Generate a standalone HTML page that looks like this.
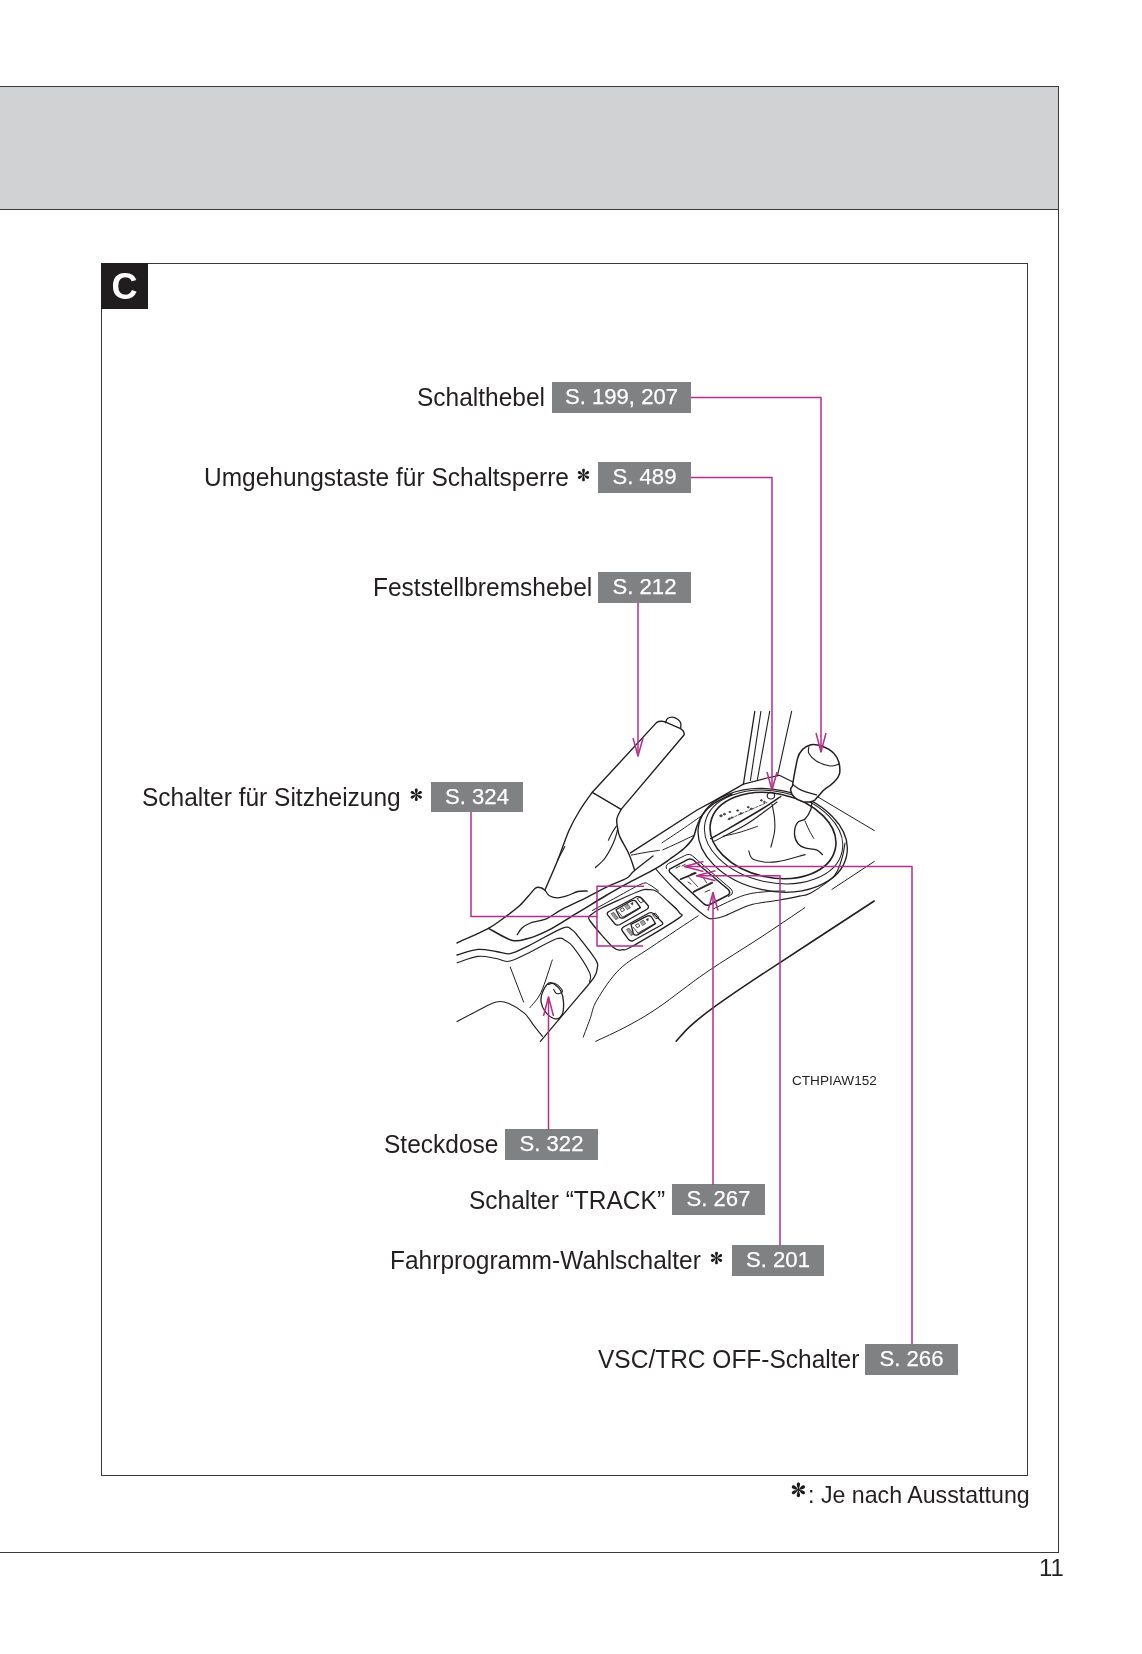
<!DOCTYPE html>
<html><head><meta charset="utf-8">
<style>
html,body{margin:0;padding:0;background:#fff;}
body{width:1142px;height:1654px;position:relative;overflow:hidden;font-family:"Liberation Sans",sans-serif;color:#231f20;}
.abs{position:absolute;will-change:transform;}
.hdr{left:0;top:86px;width:1058px;height:122px;background:#d1d2d4;border-top:1px solid #3a3a3a;border-bottom:1px solid #3a3a3a;}
.vline{left:1058px;top:86px;width:1px;height:1467px;background:#3a3a3a;}
.bline{left:0;top:1552px;width:1059px;height:1px;background:#3a3a3a;}
.frame{left:101px;top:263px;width:925px;height:1211px;border:1px solid #3a3a3a;}
.cbox{left:101px;top:263px;width:47px;height:46px;background:#1f1d1d;color:#fff;font-weight:bold;font-size:36px;line-height:48px;text-align:center;overflow:hidden;}
.lbl{font-size:24.5px;line-height:30px;white-space:nowrap;transform:scaleY(1.04);transform-origin:0 23.5px;}
.box{background:#808183;color:#fff;font-size:22.1px;line-height:30px;height:31px;text-align:center;white-space:nowrap;-webkit-text-stroke:0.25px #fff;}
.pg{font-size:24px;line-height:30px;}
.foot{font-size:23.2px;line-height:30px;white-space:nowrap;}
svg{position:absolute;left:0;top:0;}
</style></head><body>
<div class="abs hdr"></div>
<div class="abs vline"></div>
<div class="abs bline"></div>
<div class="abs frame"></div>
<div class="abs cbox">C</div>

<div class="abs lbl" style="left:417px;top:382.5px;">Schalthebel</div>
<div class="abs box" style="left:552px;top:382px;width:139px;">S. 199, 207</div>

<div class="abs lbl" style="left:204px;top:462.5px;">Umgehungstaste für Schaltsperre</div>
<div class="abs box" style="left:598px;top:462px;width:93px;">S. 489</div>

<div class="abs lbl" style="left:373px;top:572.5px;">Feststellbremshebel</div>
<div class="abs box" style="left:598px;top:572px;width:93px;">S. 212</div>

<div class="abs lbl" style="left:142px;top:782.5px;">Schalter für Sitzheizung</div>
<div class="abs box" style="left:431px;top:782px;width:92px;height:30px;line-height:30px;">S. 324</div>

<div class="abs lbl" style="left:384px;top:1129.5px;">Steckdose</div>
<div class="abs box" style="left:505px;top:1129px;width:93px;">S. 322</div>

<div class="abs lbl" style="left:469px;top:1185.5px;">Schalter “TRACK”</div>
<div class="abs box" style="left:672px;top:1184px;width:93px;">S. 267</div>

<div class="abs lbl" style="left:390px;top:1245.5px;">Fahrprogramm-Wahlschalter</div>
<div class="abs box" style="left:732px;top:1245px;width:92px;">S. 201</div>

<div class="abs lbl" style="left:598px;top:1344.5px;">VSC/TRC OFF-Schalter</div>
<div class="abs box" style="left:865px;top:1344px;width:93px;">S. 266</div>

<div class="abs foot" style="left:808px;top:1480px;">: Je nach Ausstattung</div>
<div class="abs pg" style="left:1039px;top:1553px;">11</div>

<svg width="1142" height="1654" viewBox="0 0 1142 1654">
<defs>
<g id="ast"><g fill="#1a1a1a">
<path d="M0,0 C-0.6,-1.4 -1.7,-4 -1.65,-5.7 C-1.6,-7.9 1.6,-7.9 1.65,-5.7 C1.7,-4 0.6,-1.4 0,0Z"/>
<path d="M0,0 C-0.6,-1.4 -1.7,-4 -1.65,-5.7 C-1.6,-7.9 1.6,-7.9 1.65,-5.7 C1.7,-4 0.6,-1.4 0,0Z" transform="rotate(60)"/>
<path d="M0,0 C-0.6,-1.4 -1.7,-4 -1.65,-5.7 C-1.6,-7.9 1.6,-7.9 1.65,-5.7 C1.7,-4 0.6,-1.4 0,0Z" transform="rotate(120)"/>
<path d="M0,0 C-0.6,-1.4 -1.7,-4 -1.65,-5.7 C-1.6,-7.9 1.6,-7.9 1.65,-5.7 C1.7,-4 0.6,-1.4 0,0Z" transform="rotate(180)"/>
<path d="M0,0 C-0.6,-1.4 -1.7,-4 -1.65,-5.7 C-1.6,-7.9 1.6,-7.9 1.65,-5.7 C1.7,-4 0.6,-1.4 0,0Z" transform="rotate(240)"/>
<path d="M0,0 C-0.6,-1.4 -1.7,-4 -1.65,-5.7 C-1.6,-7.9 1.6,-7.9 1.65,-5.7 C1.7,-4 0.6,-1.4 0,0Z" transform="rotate(300)"/>
<circle r="1.1"/>
</g></g>
</defs>
<use href="#ast" transform="translate(583.5,475) scale(0.86)"/>
<use href="#ast" transform="translate(416.3,794.8) scale(0.86)"/>
<use href="#ast" transform="translate(716.5,1258) scale(0.86)"/>
<use href="#ast" transform="translate(798.4,1489.8)"/>

<!-- ILLUSTRATION -->
<g id="illus" fill="none" stroke="#231f20" stroke-width="1.3" stroke-linecap="round" stroke-linejoin="round">
<path d="M709.3,835.5 a63.7,42 0 1,0 127.4,0 a63.7,42 0 1,0 -127.4,0" transform="rotate(12 773 835.5)" stroke-width="1.6"/>
<path d="M703.6,837.0 a70,45.5 0 1,0 140,0 a70,45.5 0 1,0 -140,0" transform="rotate(12 773.6 837)" stroke-width="1.0"/>
<path d="M697.2,840.3 a75.5,50.5 0 1,0 151.0,0 a75.5,50.5 0 1,0 -151.0,0" transform="rotate(12 772.7 840.3)" stroke-width="1.3"/>
<path d="M845.0,843.0 C844.5,845.5 843.8,852.5 842.0,858.0 C840.2,863.5 839.2,870.2 834.0,876.0 C828.8,881.8 816.5,889.7 810.8,893.0 C805.1,896.3 801.8,895.5 800.0,896.0" stroke-width="1.1"/>
<path d="M754.8,711.4 L743.4,784.1" stroke-width="1.3"/>
<path d="M760.9,711.4 L750.4,780.5" stroke-width="1.1"/>
<path d="M769.7,711.4 L757.4,779.5" stroke-width="1.1"/>
<path d="M791.6,711.4 L777.6,775.3" stroke-width="1.1"/>
<path d="M743.4,784.1 L767.0,778.0 L779.3,775.3 L795.0,783.0" stroke-width="1.2"/>
<path d="M630.5,852.9 L697.1,810.0 L714.5,800.6 L743.4,784.1" stroke-width="1.4"/>
<path d="M631.4,855.1 C633.7,854.7 640.3,853.3 645.0,852.5 C649.7,851.7 657.0,850.7 659.4,850.3" stroke-width="1.0"/>
<path d="M662.0,842.8 C665.3,840.6 675.3,834.1 682.0,829.5 C688.7,824.9 698.9,817.7 702.3,815.3" stroke-width="1.0"/>
<path d="M662.9,849.8 C665.8,848.5 674.8,844.5 680.0,842.0 C685.2,839.5 692.0,836.2 694.4,835.0" stroke-width="1.0"/>
<path d="M488.5,928.3 C492.4,930.3 505.2,938.5 511.6,940.2 C518.0,942.0 521.0,940.4 527.1,938.8 C533.2,937.2 539.9,934.6 548.1,930.4 C556.3,926.2 566.5,919.4 576.1,913.6 C585.8,907.8 597.5,900.5 606.0,895.5 C614.5,890.5 618.8,888.0 627.0,883.6 C635.2,879.2 647.8,873.0 655.0,868.9 C662.2,864.8 665.2,862.4 670.0,859.0 C674.8,855.6 680.2,852.0 684.0,848.5 C687.8,845.0 690.8,841.8 693.0,838.0 C695.2,834.2 695.3,830.0 697.0,826.0 C698.7,822.0 700.2,817.8 703.0,814.0 C705.8,810.2 709.2,806.8 714.0,803.5 C718.8,800.2 729.0,795.6 732.0,794.0" stroke-width="1.5"/>
<path d="M517.3,934.6 C518.1,933.5 519.8,929.9 522.0,928.0 C524.2,926.1 526.5,924.5 530.5,923.0 C534.5,921.5 541.0,921.1 546.3,918.8 C551.5,916.5 555.5,912.8 562.0,909.4 C568.5,906.0 577.1,902.2 585.0,898.3 C592.9,894.3 602.5,889.1 609.5,885.7 C616.5,882.3 622.9,880.5 627.0,878.0 C631.1,875.5 629.7,874.7 634.0,871.0 C638.3,867.3 649.8,858.5 653.0,856.0" stroke-width="1.3"/>
<path d="M592.3,792.3 L656.5,722.6 Q659.5,720.6 664.5,721.6 L680,728.3 Q685,731 684,735 L621.1,809.4 Z" stroke-width="1.4"/>
<path d="M665.4,722.7 C665.8,722.0 666.3,719.5 667.5,718.6 C668.7,717.7 670.8,717.1 672.5,717.2 C674.2,717.4 676.6,718.5 678.0,719.5 C679.4,720.5 680.2,721.6 680.7,723.0 C681.2,724.4 680.7,727.0 680.7,727.8" stroke-width="1.3"/>
<path d="M592.3,792.3 C590.2,795.2 583.9,803.7 580.0,810.0 C576.1,816.3 572.9,821.7 569.2,830.0 C565.5,838.3 561.8,850.1 557.8,860.0 C553.8,869.9 547.3,884.5 545.2,889.4" stroke-width="1.4"/>
<path d="M557.8,859.8 L564.8,846.6" stroke-width="1.1"/>
<path d="M621.1,809.4 C620.4,811.0 617.3,815.8 616.8,819.2 C616.3,822.6 617.5,827.0 618.0,830.0 C618.5,833.0 618.2,833.1 620.0,837.1 C621.8,841.1 626.4,848.4 628.8,853.8 C631.2,859.2 633.5,866.9 634.4,869.5" stroke-width="1.4"/>
<path d="M595.5,867.5 C597.1,865.9 602.1,862.2 605.1,858.0 C608.1,853.8 611.7,846.7 613.8,842.0 C615.9,837.3 616.9,832.0 617.5,830.0" stroke-width="1.2"/>
<path d="M608.4,840.2 C609.0,839.0 610.7,835.4 612.0,833.0 C613.3,830.6 615.7,827.2 616.4,826.1" stroke-width="1.1"/>
<path d="M545.2,890.5 C544.5,890.0 542.6,888.2 541.0,887.8 C539.4,887.3 537.5,886.8 535.8,887.8 C534.0,888.8 533.1,890.7 530.5,893.6 C527.9,896.5 524.1,901.4 520.0,905.2 C515.9,909.0 511.2,912.5 506.0,916.4 C500.8,920.2 496.7,923.9 488.5,928.3 C480.3,932.7 462.2,940.5 457.0,943.0" stroke-width="1.4"/>
<path d="M545.2,890.5 C545.9,891.4 547.3,894.5 549.4,895.7 C551.5,896.9 554.8,897.8 557.8,897.8 C560.8,897.8 564.0,896.8 567.3,895.7 C570.6,894.7 574.5,892.3 577.8,891.5 C581.1,890.7 585.6,891.1 587.2,891.0" stroke-width="1.3"/>
<path d="M592.4,910.5 C596.5,908.2 608.7,901.5 617.0,897.0 C625.3,892.5 636.6,885.8 642.0,883.8 C647.4,881.8 646.6,883.5 649.4,884.7 C652.2,885.9 657.1,890.0 658.6,891.1" stroke-width="1.0"/>
<path d="M589.5,915.8 C589.7,916.8 586.6,916.2 590.5,921.5 C594.4,926.8 607.8,942.6 613.1,947.3 C618.5,952.0 619.5,949.8 622.6,949.7 C625.8,949.6 622.8,951.6 632.0,946.5 C641.2,941.4 669.8,924.5 677.7,918.9 C685.6,913.2 680.9,915.5 679.3,912.6 C677.7,909.7 672.2,905.2 668.3,901.6 C664.4,898.0 659.4,893.0 656.0,891.0 C652.6,889.0 650.5,889.7 648.0,889.6 C645.5,889.5 645.7,888.9 641.0,890.5 C636.3,892.1 627.0,896.3 620.0,899.5 C613.0,902.7 603.9,906.8 598.8,909.5 C593.7,912.2 591.0,914.8 589.5,915.8" stroke-width="1.3"/>
<path d="M609,911.5 L636.5,896.7 Q640,896 642,898.5 L648.4,906 Q649,908 647,909.2 L620,924.5 Q617,926 615,924 L607.5,914.8 Q606.5,912.8 609,911.5Z" stroke-width="1.3"/>
<path d="M616,909.8 L631.5,900.8 Q634.5,899.5 636,901.5 L640.5,907.6 L624,917.6 Q621,919 619.5,917 Z" stroke-width="1.3"/>
<path d="M623.5,927 L649,913 Q652,912 654,914 L662.5,922.5 Q663.5,924 661.5,925 L633,940.8 Q630.5,941.5 628.8,939.8 L622,930.5 Q621,928.5 623.5,927Z" stroke-width="1.3"/>
<path d="M631,924.3 L647,916.2 Q650,915 651.5,917 L655.5,923.6 L638,934.6 Q635,936 633.5,934 Z" stroke-width="1.3"/>
<path d="M611.5,913.5 l2.2,-1.2 l4.5,6 l-2.2,1.2z" fill="#9a9a9a" stroke-width="0.6"/>
<path d="M622.7,917.2 L639.3,907.8" stroke-width="0.9"/>
<path d="M618.0,911.5 L622.5,917.0" stroke-width="0.8"/>
<path d="M625.0,906.0 l3,-1.8 l2.5,3.5 l-3,1.8z" fill="#a0a0a0" stroke-width="0.5"/>
<path d="M620.5,909.0 l2.5,-1.4 l1.6,2.6 l-2.5,1.4z" stroke-width="0.8"/>
<path d="M631.0,903.5 l2,-1 l-0.3,2.2z" fill="#333" stroke-width="0.6"/>
<path d="M637.5,898.5 l2.6,-1.3 l3.5,4.2 l-2.6,1.3z" stroke-width="0.9"/>
<path d="M626.8,929.4 l2.2,-1.2 l4.5,6 l-2.2,1.2z" fill="#9a9a9a" stroke-width="0.6"/>
<path d="M638.0,933.1 L654.6,923.7" stroke-width="0.9"/>
<path d="M633.3,927.4 L637.8,932.9" stroke-width="0.8"/>
<path d="M640.3,921.9 l3,-1.8 l2.5,3.5 l-3,1.8z" fill="#a0a0a0" stroke-width="0.5"/>
<path d="M635.8,924.9 l2.5,-1.4 l1.6,2.6 l-2.5,1.4z" stroke-width="0.8"/>
<path d="M646.3,919.4 l2,-1 l-0.3,2.2z" fill="#333" stroke-width="0.6"/>
<path d="M652.8,914.4 l2.6,-1.3 l3.5,4.2 l-2.6,1.3z" stroke-width="0.9"/>
<path d="M669.4,902.5 L676.8,909.0" stroke-width="1.0"/>
<path d="M666.4,868.5 L666.2,866.5 Q666.5,864.5 668.5,863.5 L686.5,854.8 Q689.5,853.6 692,855.5 L731,889 Q733.5,891.5 732,894 L728.5,896.5" stroke-width="1.0"/>
<path d="M669.6,869.2 L688,859.4 Q691,858.2 693.5,860.3 L728.3,889.5 Q731,892.5 728.3,895 L709,905 Q705.5,906 703.5,903.5 L669.8,872.2 Q668.6,870.5 669.6,869.2 Z" stroke-width="1.5"/>
<path d="M680.5,879.2 L695.8,873.1" stroke-width="1.6"/>
<path d="M688.0,877.0 C688.5,876.5 689.8,874.8 691.0,874.0 C692.2,873.2 694.3,872.8 695.0,872.5" stroke-width="0.9"/>
<path d="M693.3,892.1 L712.3,882.9" stroke-width="1.6"/>
<path d="M694.0,891.0 L712.0,882.0" stroke-width="0.8"/>
<path d="M688.4,876.8 L697.6,886.6" stroke-width="0.8"/>
<path d="M702.5,876.8 L706.8,882.9" stroke-width="0.8"/>
<path d="M656.0,869.4 C659.5,873.1 668.6,883.7 676.8,891.5 C685.0,899.3 698.9,911.5 705.0,916.0 C711.1,920.5 710.1,918.6 713.6,918.5 C717.1,918.4 719.7,917.8 725.8,915.5 C731.9,913.2 741.3,907.6 750.3,905.0 C759.3,902.4 771.7,901.5 780.0,900.0 C788.3,898.5 796.7,896.7 800.0,896.0" stroke-width="1.1"/>
<path d="M713.6,908.7 C718.7,906.5 735.0,898.1 744.2,895.2 C753.4,892.3 761.9,892.2 768.7,891.5 C775.5,890.8 782.3,891.1 785.0,891.0" stroke-width="1.0"/>
<path d="M676.0,868.0 L680.0,866.0" stroke-width="0.9"/>
<path d="M682.0,866.0 L685.0,864.5" stroke-width="0.9"/>
<path d="M688.0,882.0 L691.0,884.0" stroke-width="0.9"/>
<path d="M705.0,892.0 L710.0,890.0" stroke-width="0.9"/>
<path d="M710.8,838.7 C715.5,836.0 730.2,827.6 739.0,822.5 C747.8,817.4 756.6,812.3 763.6,808.0 C770.6,803.7 777.9,798.4 780.7,796.5" stroke-width="1.5"/>
<path d="M714.5,841.1 C719.6,838.4 736.6,830.1 745.2,825.0 C753.8,819.9 760.7,814.3 766.0,810.5 C771.3,806.7 775.2,803.4 777.0,802.0" stroke-width="1.1"/>
<path d="M767.2,795.7 a3.7,3.3 0 1,0 7.4,0 a3.7,3.3 0 1,0 -7.4,0" stroke-width="1.2"/>
<path d="M728,819.5 L767,802.5" stroke-dasharray="2.2 1.6" stroke-width="0.8"/>
<path d="M719.7,815.8 a1.3,1.04 0 1,0 2.60,0 a1.3,1.04 0 1,0 -2.60,0" fill="#555" stroke-width="0.6"/>
<path d="M723.4,814.2 a1.1,0.88 0 1,0 2.20,0 a1.1,0.88 0 1,0 -2.20,0" fill="#555" stroke-width="0.6"/>
<path d="M729.1,812.0 a0.9,0.72 0 1,0 1.80,0 a0.9,0.72 0 1,0 -1.80,0" fill="#555" stroke-width="0.6"/>
<path d="M736.7,810.6 a1.0,0.80 0 1,0 2.00,0 a1.0,0.80 0 1,0 -2.00,0" fill="#555" stroke-width="0.6"/>
<path d="M739.9,813.4 a1.0,0.80 0 1,0 2.00,0 a1.0,0.80 0 1,0 -2.00,0" fill="#555" stroke-width="0.6"/>
<path d="M747.3,807.2 a1.0,0.80 0 1,0 2.00,0 a1.0,0.80 0 1,0 -2.00,0" fill="#555" stroke-width="0.6"/>
<path d="M750.4,808.8 a1.0,0.80 0 1,0 2.00,0 a1.0,0.80 0 1,0 -2.00,0" fill="#555" stroke-width="0.6"/>
<path d="M760.4,800.4 a1.0,0.80 0 1,0 2.00,0 a1.0,0.80 0 1,0 -2.00,0" fill="#555" stroke-width="0.6"/>
<path d="M763.6,802.0 a0.9,0.72 0 1,0 1.80,0 a0.9,0.72 0 1,0 -1.80,0" fill="#555" stroke-width="0.6"/>
<path d="M728.5,818.8 a1.0,0.80 0 1,0 2.00,0 a1.0,0.80 0 1,0 -2.00,0" fill="#555" stroke-width="0.6"/>
<path d="M731.1,817.6 a0.9,0.72 0 1,0 1.80,0 a0.9,0.72 0 1,0 -1.80,0" fill="#555" stroke-width="0.6"/>
<path d="M792.5,786 C793.5,778 795.5,768 797.3,759.3 C799,752 803,747 810.8,744.8 C816,743.5 828,747 834,753.5 C838.5,758 840.5,766 839.7,772.8 C838.5,779 831,785.5 826.2,788.2 C822,791 820,794.5 817.6,796.8 L815,800 C813,802 807,802.5 803.1,801.7 C797,800 791.5,796 790.6,790.1 C790.4,788.5 791.5,787 792.5,786Z" fill="#fff" stroke-width="1.5"/>
<path d="M808.9,746.7 C808.9,747.8 807.6,751.1 808.9,753.5 C810.2,755.9 813.1,759.1 816.6,761.2 C820.1,763.3 826.4,765.5 830.1,766.0 C833.8,766.5 837.3,764.4 838.8,764.1" stroke-width="1.1"/>
<path d="M792.5,784.3 C794.0,785.3 797.2,788.3 801.2,790.1 C805.2,791.9 814.0,794.1 816.6,794.9" stroke-width="1.2"/>
<path d="M817.6,796.8 L874.4,830.6" stroke-width="1.0"/>
<path d="M811.8,801.7 C811.6,803.0 811.9,806.5 810.8,809.4 C809.7,812.3 807.2,816.8 805.0,819.0 C802.8,821.2 799.0,820.3 797.3,822.9 C795.5,825.5 794.3,830.9 794.5,834.4 C794.7,837.9 796.5,841.8 798.3,844.0 C800.0,846.2 802.0,846.9 805.0,847.9 C808.0,848.9 813.7,848.7 816.6,849.8 C819.5,850.9 821.4,853.8 822.4,854.6" stroke-width="1.3"/>
<path d="M805.0,820.9 C805.7,822.4 807.5,827.1 809.0,830.0 C810.5,832.9 812.9,836.9 813.7,838.3" stroke-width="1.0"/>
<path d="M772.1,804.3 C772.5,806.8 774.2,814.5 774.6,819.0 C775.0,823.5 775.2,826.6 774.6,831.3 C774.0,836.0 771.5,844.6 770.9,847.2" stroke-width="1.1"/>
<path d="M748.8,850.9 C749.6,852.3 749.2,857.7 753.7,859.5 C758.2,861.3 767.2,862.7 775.8,861.9 C784.4,861.1 800.3,855.8 805.2,854.6" stroke-width="1.1"/>
<path d="M757.4,826.4 C754.3,827.4 744.7,830.9 739.0,832.5 C733.3,834.1 725.8,835.6 723.1,836.2" stroke-width="1.0"/>
<path d="M457.0,955.0 C460.5,954.1 471.5,950.0 478.0,949.4 C484.5,948.8 490.8,950.8 496.2,951.5 C501.6,952.2 504.8,954.6 510.2,953.6 C515.6,952.6 519.9,950.0 528.5,945.8 C537.1,941.6 554.9,931.0 562.1,928.3 C569.3,925.6 569.1,928.2 571.9,929.7 C574.7,931.2 574.9,932.4 578.9,937.4 C582.9,942.4 592.7,954.8 595.8,959.9 C598.9,965.0 597.6,964.9 597.3,967.8 C597.0,970.7 597.1,972.7 594.2,977.2 C591.3,981.7 589.0,983.9 580.0,994.6 C571.0,1005.3 547.0,1033.5 540.4,1041.3" stroke-width="1.3"/>
<path d="M457.0,962.7 C460.5,961.7 471.5,957.1 478.0,956.4 C484.5,955.7 491.1,957.7 496.2,958.5 C501.3,959.3 503.4,962.2 508.8,961.3 C514.2,960.4 520.5,956.6 528.5,952.9 C536.5,949.1 550.4,940.9 556.5,938.8 C562.6,936.7 562.1,938.8 564.9,940.2 C567.7,941.6 569.2,941.8 573.3,947.2 C577.4,952.6 586.8,966.7 589.5,972.5 C592.2,978.3 589.5,980.4 589.5,982.0" stroke-width="1.1"/>
<path d="M510.2,967.0 L523.6,1002.0" stroke-width="1.0"/>
<path d="M552.3,960.0 C550.4,965.4 544.8,984.3 541.1,992.2 C537.4,1000.1 531.8,1005.0 529.9,1007.6" stroke-width="1.0"/>
<path d="M457.0,1021.6 C460.5,1019.7 471.5,1013.7 478.0,1010.4 C484.5,1007.1 491.1,1003.2 496.2,1002.0 C501.3,1000.8 504.1,1001.5 508.8,1003.4 C513.5,1005.3 520.1,1009.5 524.3,1013.2 C528.5,1016.9 531.1,1021.9 534.1,1025.8 C537.1,1029.7 541.1,1034.6 542.5,1036.4" stroke-width="1.1"/>
<path d="M548.8,983.1 C546.9,984.5 543.8,989.1 542.5,992.2 C541.2,995.4 540.6,998.7 541.1,1002.0 C541.6,1005.3 543.0,1009.0 545.3,1011.8 C547.6,1014.6 552.3,1018.3 555.1,1018.8 C557.9,1019.3 560.7,1017.4 562.1,1014.6 C563.5,1011.8 563.7,1006.0 563.5,1002.0 C563.3,998.0 562.3,993.8 560.7,990.8 C559.1,987.8 555.7,985.1 553.7,983.8 C551.7,982.5 550.7,981.7 548.8,983.1Z" stroke-width="1.3"/>
<path d="M548.1,984.5 C549.1,984.3 552.3,982.7 554.4,983.3 C556.5,983.9 559.4,986.5 560.7,988.0 C562.0,989.5 562.8,991.3 562.1,992.2 C561.4,993.1 557.9,994.1 556.5,993.6 C555.1,993.1 554.2,990.1 553.7,989.4" stroke-width="1.1"/>
<path d="M583.2,1037.1 C584.4,1034.0 587.8,1025.0 590.1,1018.8 C592.4,1012.6 592.1,1008.2 597.0,1000.0 C601.9,991.8 610.4,978.2 619.4,969.4 C628.4,960.6 637.8,956.2 650.9,947.3 C664.0,938.4 690.3,921.0 698.2,915.8" stroke-width="1.0"/>
<path d="M595.7,1041.3 C601.0,1038.8 616.8,1031.8 627.3,1026.1 C637.8,1020.4 645.7,1016.1 658.8,1007.2 C671.9,998.3 689.2,984.1 706.1,972.5 C723.0,960.9 743.6,948.6 760.0,937.8 C776.4,927.0 797.2,912.8 804.7,907.8" stroke-width="1.0"/>
<path d="M676.2,1041.1 C678.6,1038.6 684.0,1031.8 690.3,1026.1 C696.6,1020.4 702.4,1015.6 714.0,1007.2 C725.6,998.8 733.3,993.4 760.0,975.7 C786.7,958.0 855.2,913.5 874.2,901.0" stroke-width="1.6"/>
<path d="M832.0,889.3 L874.4,861.4" stroke-width="1.0"/>
</g>

<!-- CONNECTORS -->
<g fill="none" stroke="#b42e8a" stroke-width="1.5" stroke-linejoin="round">
<polyline points="691,397.5 821,397.5 821,752"/>
<polyline points="816,733 821,752 826,733"/>
<polyline points="691,477.5 772,477.5 772,790"/>
<polyline points="767,772 772,790 777,772"/>
<polyline points="638,603 638,756"/>
<polyline points="633,738 638,756 643,738"/>
<polyline points="471,812 471,916.5 597,916.5"/>
<polyline points="644,886.3 597,886.3 597,946 643,946"/>
<polyline points="548.5,1129.5 548.5,997"/>
<polyline points="543.5,1016 548.5,997 553.5,1016"/>
<polyline points="713,1185 713,892.5"/>
<polyline points="708,910.5 713,892.5 718,910.5"/>
<polyline points="780,1245 780,875.7 696.5,875.7"/>
<polyline points="715.5,870.7 696.5,875.7 715.5,880.7"/>
<polyline points="912,1344 912,866.5 684.5,866.5"/>
<polyline points="703.5,861.5 684.5,866.5 703.5,871.5"/>
</g>

<text x="792" y="1085" font-family="Liberation Sans" font-size="13.6" fill="#231f20">CTHPIAW152</text>
</svg>
</body></html>
